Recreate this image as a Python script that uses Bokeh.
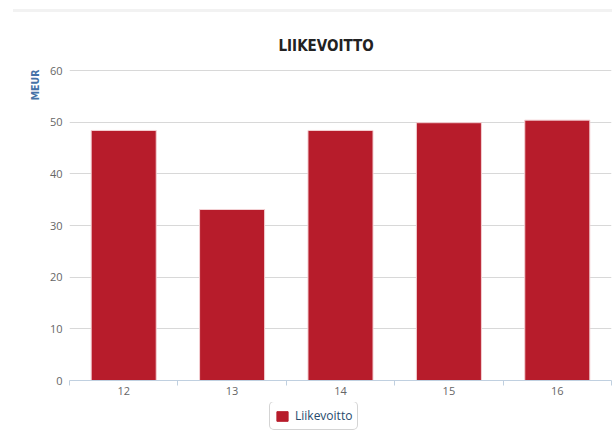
from bokeh.plotting import figure
from bokeh.layouts import column
from bokeh.models import ColumnDataSource, FixedTicker, Legend, LegendItem, Range1d, Title, Div
from bokeh.embed import file_html
from bokeh.resources import INLINE

years = ["12", "13", "14", "15", "16"]
values = [48.4, 33.1, 48.4, 49.9, 50.4]
series_name = "Liikevoitto"
title_text = "LIIKEVOITTO"
y_label = "MEUR"
y_ticks = [0, 10, 20, 30, 40, 50, 60]
bar_color = "#B71C2B"

xs = [i + 0.5 for i in range(len(years))]
src = ColumnDataSource(dict(x=xs, top=values, label=years))

# thin grey band at the top of the page
band = Div(text="", width=599, height=3, margin=(9, 0, 1, 13),
           styles={"background-color": "#F2F2F2"})

p = figure(frame_width=542, frame_height=311, output_backend="svg", toolbar_location=None,
           x_range=Range1d(0, len(years)), y_range=Range1d(0, 60.2),
           min_border_left=69, min_border_right=1, min_border_top=56, min_border_bottom=22)
p.outline_line_color = None
p.background_fill_color = "white"
p.border_fill_color = "white"

r = p.vbar(x="x", top="top", width=0.6, source=src, fill_color=bar_color,
           line_color="#f3d0d3", line_width=1)

p.title = Title(text=title_text, align="left",
                text_font="DejaVu Sans Condensed",
                text_font_size="15px", text_font_style="bold", text_color="#222222",
                offset=209, standoff=30)

p.add_layout(Title(text=y_label, align="right", text_font="DejaVu Sans Condensed",
                   text_font_size="10.5px", text_font_style="bold", text_color="#4572A7",
                   standoff=12), "left")

# x axis
p.xaxis.ticker = FixedTicker(ticks=xs, minor_ticks=list(range(len(years) + 1)))
p.xaxis.major_label_overrides = {x: y for x, y in zip(xs, years)}
p.xaxis.axis_line_color = "#C0D0E0"
p.xaxis.major_tick_line_color = None
p.xaxis.major_tick_out = 0
p.xaxis.major_tick_in = 0
p.xaxis.minor_tick_line_color = "#C0D0E0"
p.xaxis.minor_tick_out = 5
p.xaxis.minor_tick_in = 0
p.xaxis.major_label_text_color = "#666666"
p.xaxis.major_label_text_font = "Open Sans"
p.xaxis.major_label_text_font_size = "11px"
p.xaxis.major_label_standoff = 1
p.xgrid.grid_line_color = None

# y axis
p.yaxis.ticker = FixedTicker(ticks=y_ticks)
p.yaxis.axis_line_color = None
p.yaxis.major_tick_line_color = None
p.yaxis.major_tick_out = 0
p.yaxis.major_tick_in = 0
p.yaxis.minor_tick_line_color = None
p.yaxis.major_label_text_color = "#666666"
p.yaxis.major_label_text_font = "Open Sans"
p.yaxis.major_label_text_font_size = "11px"
p.yaxis.major_label_standoff = 7
p.ygrid.grid_line_color = "#D8D8D8"
p.ygrid.grid_line_width = 1

# legend strip below the chart (its swatch renderer is kept outside the visible range)
q = figure(frame_width=612, frame_height=30, output_backend="svg", toolbar_location=None,
           x_axis_location=None, y_axis_location=None,
           x_range=Range1d(-20, -19), y_range=Range1d(0, 1),
           min_border_left=0, min_border_right=0, min_border_top=0, min_border_bottom=0)
q.outline_line_color = None
q.grid.grid_line_color = None
swatch = q.vbar(x="x", top="top", width=0.6, source=src, fill_color=bar_color,
                line_color=bar_color)

legend = Legend(items=[LegendItem(label=series_name, renderers=[swatch])],
                orientation="horizontal", location=(269, 2),
                border_line_color="#AAAAAA", border_line_width=1,
                label_text_font="Open Sans", label_text_font_size="12px",
                label_text_color="#274b6d", glyph_width=14, glyph_height=12,
                padding=5, spacing=4, margin=0, label_standoff=6)
if "border_radius" in Legend.properties():
    legend.border_radius = 5
q.add_layout(legend, "center")

layout = column(band, p, q, spacing=0)
open("out.html", "w").write(file_html(layout, INLINE))
